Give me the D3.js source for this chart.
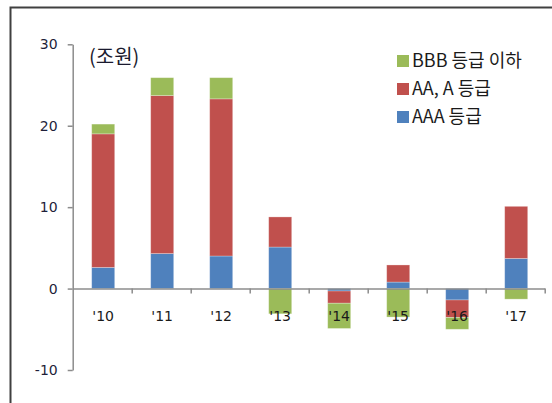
<!DOCTYPE html>
<html><head><meta charset="utf-8">
<script src="https://cdn.jsdelivr.net/npm/d3@7"></script>
<style>body{margin:0;background:#fff}svg{display:block}</style>
</head><body>
<script>
const categories = ["'10","'11","'12","'13","'14","'15","'16","'17"];
const seriesNames = ["AAA 등급","AA, A 등급","BBB 등급 이하"];
const aaa = [2.6, 4.3, 4.0, 5.1, -0.3, 0.8, -1.4, 3.7];
const aaA = [16.4, 19.4, 19.3, 3.7, -1.5, 2.1, -2.15, 6.4];
const bbb = [1.2, 2.2, 2.6, -3.1, -3.1, -3.5, -1.45, -1.3];
const yTicks = [-10, 0, 10, 20, 30];
const unitLabel = "(조원)";
const colors = ["#4F81BD", "#C0504D", "#9BBB59"];

const W = 552, H = 403;
const svg = d3.select("body").append("svg").attr("width", W).attr("height", H);
svg.append("rect").attr("width", W).attr("height", H).attr("fill", "#fff");

// frame
svg.append("path").attr("d", `M10.5,${H} V7.5 H${W}`).attr("fill","none").attr("stroke","#404040").attr("stroke-width",2);

const x0 = 72.7, x1 = 544.7;
const y = d3.scaleLinear().domain([-10, 30]).range([370, 44.3]);
const x = d3.scaleBand().domain(categories).range([x0 + 1, x1 + 1]).paddingInner(0.61).paddingOuter(0.305);
const bnd = d3.scaleLinear().domain([0, categories.length]).range([x0, x1]);

const rows = categories.map((c, i) => ({cat: c, s0: aaa[i], s1: aaA[i], s2: bbb[i]}));
const stack = d3.stack().keys(["s0","s1","s2"]).offset(d3.stackOffsetDiverging);
const layers = stack(rows);

const g = svg.append("g");
layers.forEach((layer, k) => {
  g.selectAll(null).data(layer).join("rect")
    .attr("x", d => x(d.data.cat))
    .attr("width", x.bandwidth())
    .attr("y", d => y(Math.max(d[0], d[1])))
    .attr("height", d => Math.abs(y(d[0]) - y(d[1])))
    .attr("fill", colors[k])
    .attr("stroke", "rgba(255,255,255,0.35)").attr("stroke-width", 0.8);
});

// y axis
const yAxis = svg.append("g").attr("transform", `translate(${x0},0)`)
  .call(d3.axisLeft(y).tickValues(yTicks).tickSize(5).tickSizeOuter(0).tickPadding(10).tickFormat(d => String(d)));
yAxis.select(".domain").attr("stroke", "#8c8c8c").attr("stroke-width", 1.5);
yAxis.selectAll(".tick line").attr("stroke", "#8c8c8c").attr("stroke-width", 1.5);
yAxis.selectAll(".tick text").attr("font-family", "DejaVu Sans, Verdana, sans-serif").attr("font-size", 14).attr("fill", "#1f1f3a");

// x axis (zero line with boundary ticks)
const xAxis = svg.append("g").attr("transform", `translate(0,${y(0)})`)
  .call(d3.axisBottom(bnd).tickValues(d3.range(1, categories.length + 1)).tickSize(5).tickSizeOuter(0).tickFormat(""));
xAxis.select(".domain").attr("stroke", "#8c8c8c").attr("stroke-width", 1.5);
xAxis.selectAll(".tick line").attr("stroke", "#8c8c8c").attr("stroke-width", 1.5);

svg.append("g").selectAll("text").data(categories).join("text")
  .attr("x", d => x(d) + x.bandwidth() / 2)
  .attr("y", y(0) + 32)
  .attr("text-anchor", "middle")
  .attr("font-family", "DejaVu Sans, Verdana, sans-serif").attr("font-size", 14).attr("fill", "#1a1a1a")
  .text(d => d);

// unit label
svg.append("text").attr("x", 89).attr("y", 64).attr("font-family", "Noto Sans CJK KR, sans-serif")
  .attr("font-size", 20).attr("fill", "#1a1a2e").text(unitLabel);

// legend (top to bottom: BBB, AA A, AAA)
const legendOrder = [2, 1, 0];
const lg = svg.append("g");
legendOrder.forEach((k, j) => {
  const cy = 61 + j * 28;
  lg.append("rect").attr("x", 397).attr("y", cy - 6).attr("width", 12).attr("height", 12).attr("fill", colors[k]);
  lg.append("text").attr("x", 412).attr("y", cy).attr("dy", "0.35em")
    .attr("font-family", "Noto Sans CJK KR, sans-serif").attr("font-size", 18).attr("fill", "#1a1a1a")
    .text(seriesNames[k]);
});
</script>
</body></html>
